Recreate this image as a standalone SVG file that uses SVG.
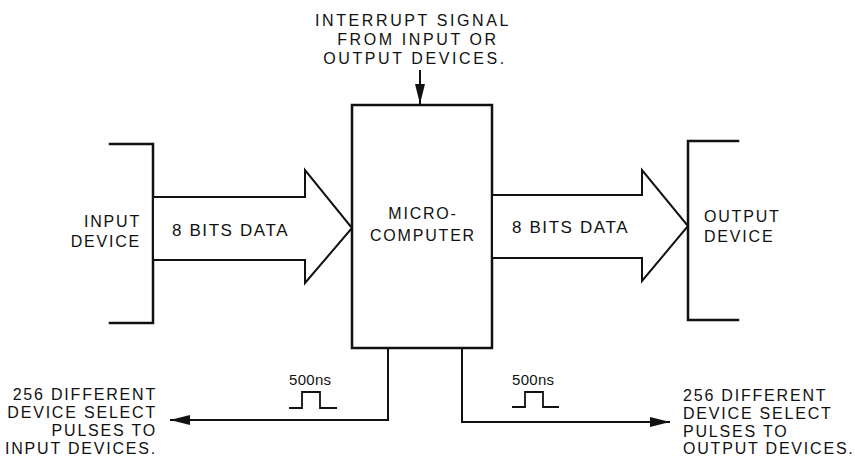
<svg xmlns="http://www.w3.org/2000/svg" width="855" height="458" viewBox="0 0 855 458">
<style>
.t{font-family:"Liberation Sans",Arial,sans-serif;font-size:16px;fill:#111;letter-spacing:1.8px}
.w{letter-spacing:2.6px}
.big{font-size:17px;letter-spacing:1.6px}
.sm{font-size:15px;letter-spacing:0.3px}
.ln{fill:none;stroke:#111;stroke-width:2.5;stroke-linecap:square}
.thin{fill:none;stroke:#111;stroke-width:2}
.arr{fill:#fff;stroke:#111;stroke-width:2;stroke-linejoin:miter}
</style>
<defs>
<marker id="ah" viewBox="0 0 20 10" refX="20" refY="5" markerWidth="20" markerHeight="10" markerUnits="userSpaceOnUse" orient="auto">
<path d="M0,0 L20,5 L0,10 Z" fill="#111"/>
</marker>
</defs>
<g id="input-device">
<path class="ln" d="M110,144 H153 V323 H110"/>
<text class="t" text-anchor="end" x="141" y="227">INPUT</text>
<text class="t" text-anchor="end" x="141" y="247">DEVICE</text>
</g>
<g id="output-device">
<path class="ln" d="M738,141 H688 V320 H738"/>
<text class="t" x="704" y="222">OUTPUT</text>
<text class="t" x="704" y="242">DEVICE</text>
</g>
<g id="microcomputer">
<rect x="352" y="105" width="140" height="243" fill="#fff" stroke="#111" stroke-width="2.5"/>
<text class="t" text-anchor="middle" x="423" y="219">MICRO-</text>
<text class="t" text-anchor="middle" x="423" y="241">COMPUTER</text>
</g>
<g id="interrupt-label">
<text class="t w" text-anchor="middle" x="413" y="26">INTERRUPT SIGNAL</text>
<text class="t w" text-anchor="middle" x="418" y="45">FROM INPUT OR</text>
<text class="t w" text-anchor="middle" x="415" y="64">OUTPUT DEVICES.</text>
</g>
<g id="connectors">
<polygon class="arr" points="153,197 305,197 305,170 352,228 305,283 305,260 153,260"/>
<text class="t big" x="172" y="236">8 BITS DATA</text>
<polygon class="arr" points="492,195 642,195 642,170 688,226 642,281 642,258 492,258"/>
<text class="t big" x="512" y="233">8 BITS DATA</text>
<path class="thin" d="M420,70 V104" marker-end="url(#ah)"/>
<path class="thin" d="M388,348 V420 H170" marker-end="url(#ah)"/>
<path class="thin" d="M462,348 V422 H670" marker-end="url(#ah)"/>
</g>
<g id="pulse-left">
<text class="t sm" x="289" y="385">500ns</text>
<path class="thin" d="M289,408 H302 V392 H320 V408 H337" style="stroke-width:1.8"/>
</g>
<g id="pulse-right">
<text class="t sm" x="512" y="385">500ns</text>
<path class="thin" d="M512,407 H525 V392 H543 V407 H559" style="stroke-width:1.8"/>
</g>
<g id="input-select-label">
<text class="t" text-anchor="end" x="157" y="400">256 DIFFERENT</text>
<text class="t" text-anchor="end" x="157" y="418">DEVICE SELECT</text>
<text class="t" text-anchor="end" x="157" y="436">PULSES TO</text>
<text class="t" text-anchor="end" x="157" y="454">INPUT DEVICES.</text>
</g>
<g id="output-select-label">
<text class="t" x="683" y="401">256 DIFFERENT</text>
<text class="t" x="683" y="419">DEVICE SELECT</text>
<text class="t" x="683" y="437">PULSES TO</text>
<text class="t" x="683" y="454">OUTPUT DEVICES.</text>
</g>
</svg>
